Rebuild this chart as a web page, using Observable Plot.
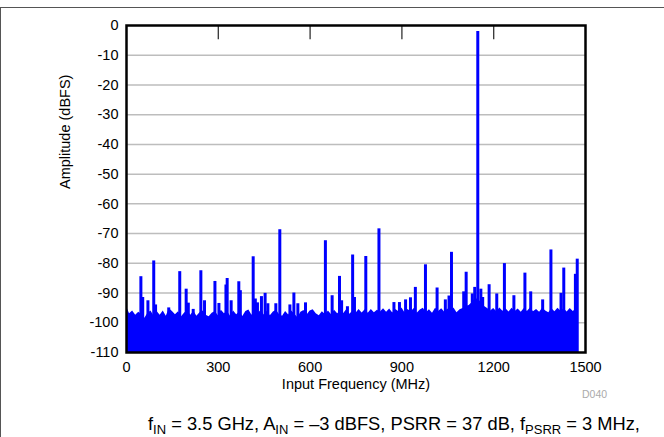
<!DOCTYPE html>
<html><head><meta charset="utf-8">
<script src="https://cdn.jsdelivr.net/npm/d3@7"></script>
<script src="https://cdn.jsdelivr.net/npm/@observablehq/plot@0.6"></script>
<style>
body{margin:0;background:#fff;font-family:"Liberation Sans",Arial,sans-serif;}
#wrap{position:relative;width:664px;height:437px;overflow:hidden;}
#border{position:absolute;left:0;top:7px;width:670px;height:440px;border-top:1px solid #555;border-left:1px solid #555;box-sizing:border-box;}
#chart{position:absolute;left:0;top:0;}
#caption{position:absolute;top:413px;left:148px;white-space:nowrap;font-size:18.3px;color:#000;}
#caption sub{font-size:13px;vertical-align:-4px;line-height:0;}
</style></head>
<body>
<div id="wrap"><div id="border"></div><div id="chart"></div>
<div id="caption">f<sub>IN</sub> = 3.5 GHz, A<sub>IN</sub> = –3 dBFS, PSRR = 37 dB, f<sub>PSRR</sub> = 3 MHz,</div>
</div>
<script>
// x-axis and y-axis ticks
const xTicks = [0, 300, 600, 900, 1200, 1500];
const yTicks = [0, -10, -20, -30, -40, -50, -60, -70, -80, -90, -100, -110];
const gridTicks = [-10, -20, -30, -40, -50, -60, -70, -80, -90, -100];
const topTicks = [300, 600, 900, 1200];
const xLabel = "Input Frequency (MHz)";
const yLabel = "Amplitude (dBFS)";
const tag = "D040";

// noise floor, every 10 MHz (MHz, dBFS)
const noiseF = [0,10,20,30,40,50,60,70,80,90,100,110,120,130,140,150,160,170,180,190,200,210,220,230,240,250,260,270,280,290,300,310,320,330,340,350,360,370,380,390,400,410,420,430,440,450,460,470,480,490,500,510,520,530,540,550,560,570,580,590,600,610,620,630,640,650,660,670,680,690,700,710,720,730,740,750,760,770,780,790,800,810,820,830,840,850,860,870,880,890,900,910,920,930,940,950,960,970,980,990,1000,1010,1020,1030,1040,1050,1060,1070,1080,1090,1100,1110,1120,1130,1140,1150,1160,1170,1180,1190,1200,1210,1220,1230,1240,1250,1260,1270,1280,1290,1300,1310,1320,1330,1340,1350,1360,1370,1380,1390,1400,1410,1420,1430,1440,1450,1460,1470,1476];
const noiseV = [-94.5,-97,-96,-97.5,-96.5,-97.2,-98.5,-96.8,-96,-97.8,
-96.2,-97.5,-96,-97.8,-95.3,-96.2,-97.3,-96.3,-98,-96.7,
-96,-97.5,-96.1,-97.8,-96.6,-96,-97.5,-98,-96.8,-96.2,
-97.6,-95.8,-97,-96.2,-97.8,-96,-97.3,-96.4,-97.9,-96.2,
-95.7,-97.5,-96,-97,-95.8,-97.4,-96.1,-97.6,-96.4,-95.8,
-97.3,-97.8,-96.2,-97.4,-96,-97.1,-98.3,-96.5,-95.9,-97.4,
-96,-95.6,-97,-97.6,-96.3,-97.2,-96,-97.3,-95.8,-97,
-96,-96.9,-95.5,-97.1,-96,-96.8,-95.5,-96.7,-95.6,-96.8,
-95.5,-96.6,-95.8,-96.4,-95.3,-96.5,-95.4,-96.7,-95.5,-96.3,
-95,-96.6,-95.5,-96.4,-95.2,-96.8,-95.7,-95.1,-96.6,-95.6,
-96.8,-95.1,-96.2,-95.3,-96.5,-95.4,-96.4,-95,-96.6,-95.6,
-95.2,-94.5,-94.2,-93.2,-91.8,-92.2,-93.3,-94.5,-95.2,-96,
-95.2,-96.3,-95,-96.1,-95.3,-96.4,-95.1,-96.2,-95.4,-96.5,
-95.2,-96.2,-95,-96.3,-95.5,-96.5,-95.1,-96,-96.6,-95.3,
-96.3,-95.1,-96.1,-95.3,-96.4,-95.2,-96.2,-95.4,-96];

// spurs and bumps (MHz, dBFS)
const spurF = [47,53,70,89,95,138,174,195,202,218,243,255,289,302,325,329,342,367,372,414,421,428,441,453,462,488,501,534,547,560,585,650,672,696,703,722,739,745,782,825,874,892,912,928,944,977,1015,1042,1054,1062,1102,1110,1130,1138,1148,1158,1164,1185,1210,1235,1266,1302,1321,1360,1387,1420,1429,1467,1473];
const spurV = [-84.5,-91.5,-92.6,-79.2,-94,-95,-82.8,-88.7,-93.4,-95.5,-82.5,-92.6,-86.1,-93.5,-87.3,-85.1,-92.6,-86.2,-89.2,-77.8,-92,-93.3,-91.2,-90.1,-93.6,-93.6,-68.7,-94,-90,-93.6,-93.3,-72.4,-90.9,-84.4,-92.6,-94.6,-77.2,-91.5,-77.7,-68.4,-93.2,-93.2,-92.3,-91.6,-88.1,-80.5,-88.3,-92.3,-91,-76.3,-89.6,-83,-90.3,-88.1,-2,-88.7,-91.5,-87.2,-90.3,-80.1,-90.9,-83.3,-89.6,-92.3,-75.5,-90.1,-81.6,-83.7,-78.6];

const noise = noiseF.map((f, i) => ({f, v: noiseV[i]}));
const spurs = spurF.map((f, i) => ({f, v: spurV[i]}));

const chart = Plot.plot({
  width: 664, height: 400,
  marginLeft: 126, marginRight: 79, marginTop: 25, marginBottom: 48,
  x: {domain: [0, 1500]},
  y: {domain: [-110, 0]},
  style: {fontFamily: "Liberation Sans, Arial, sans-serif", fontSize: "14.5px", color: "#000", background: "transparent", overflow: "visible"},
  marks: [
    Plot.gridY(gridTicks, {stroke: "#bdbdbd", strokeOpacity: 1, strokeWidth: 1.5}),
    Plot.areaY(noise, {x: "f", y1: -110, y2: "v", fill: "#0000ff"}),
    Plot.ruleX(spurs, {x: "f", y1: -110, y2: "v", stroke: "#0000ff", strokeWidth: 3}),
    Plot.ruleX(topTicks, {y1: 0, y2: -4.8, stroke: "#333", strokeWidth: 1.3}),
    Plot.frame({stroke: "#000", strokeWidth: 2.5}),
    Plot.axisX(xTicks, {tickSize: 0, tickPadding: 9, label: null, fontSize: 14.5, tickFormat: d => String(d)}),
    Plot.axisY(yTicks, {tickSize: 0, tickPadding: 8, label: null, fontSize: 14.5, tickFormat: d => String(d)}),
    Plot.text([xLabel], {frameAnchor: "bottom", dy: 36, fontSize: 14.5}),
    Plot.text([yLabel], {frameAnchor: "left", dx: -61, rotate: -90, fontSize: 14.5}),
    Plot.text([tag], {frameAnchor: "bottom-right", dx: 9, dy: 45, fontSize: 10.5, fill: "#aaa", textAnchor: "middle"})
  ]
});
document.getElementById("chart").appendChild(chart);
</script>
</body></html>
